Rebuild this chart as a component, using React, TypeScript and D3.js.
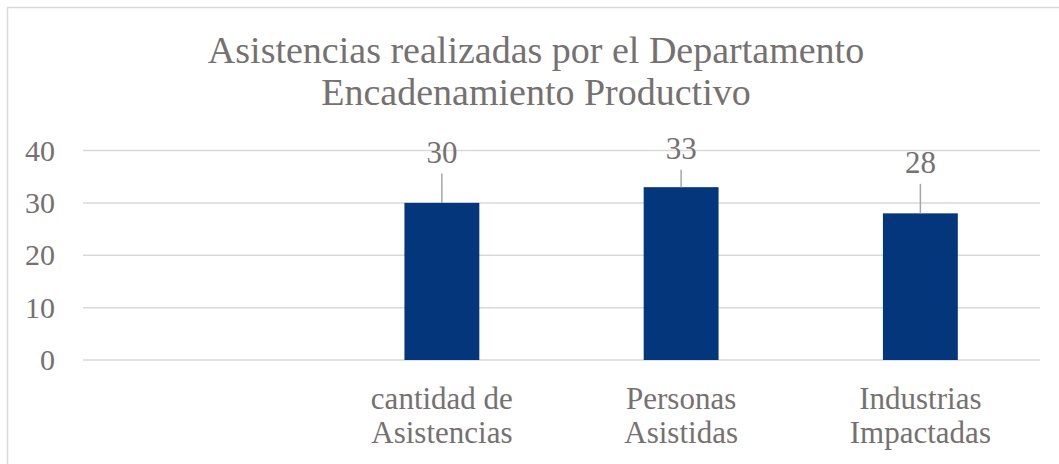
import React from "react";
import * as d3 from "d3";

const titleLines = ["Asistencias realizadas por el Departamento", "Encadenamiento Productivo"];
const categories = ["", "cantidad de\nAsistencias", "Personas\nAsistidas", "Industrias\nImpactadas"];
const values: (number | null)[] = [null, 30, 33, 28];
const yTicks = [0, 10, 20, 30, 40];
// manual data-label lifts (pixels above bar top), as moved in the original
const labelLift = [0, 40, 28, 40];

const W = 1059;
const H = 464;
const TEXT = "#757171";
const GRID = "#d9d9d9";
const BAR = "#03367a";

export default function App() {
  const x = d3
    .scaleBand<string>()
    .domain(categories.map((c, i) => String(i)))
    .range([83, 1040])
    .paddingInner(0.687)
    .paddingOuter(0.3435);
  const y = d3.scaleLinear().domain([0, 40]).range([360, 150.5]);

  return (
    <svg
      width={W}
      height={H}
      style={{ position: "absolute", left: 0, top: 0, fontFamily: "Liberation Serif" }}
    >
      <rect x={0} y={0} width={W} height={H} fill="#fff" />
      <rect x={7.5} y={7.5} width={W + 20} height={H + 20} fill="none" stroke={GRID} strokeWidth={1.5} />
      {titleLines.map((t, i) => (
        <text key={i} x={536} y={63 + i * 42} textAnchor="middle" fontSize={38} fill={TEXT} style={{ fontFamily: "Liberation Serif" }}>
          {t}
        </text>
      ))}
      {yTicks.map((t) => (
        <g key={t}>
          <line x1={83} x2={1040} y1={y(t)} y2={y(t)} stroke={GRID} strokeWidth={1.5} />
          <text x={55} y={y(t) + 10} textAnchor="end" fontSize={30} fill={TEXT} style={{ fontFamily: "Liberation Serif" }}>
            {t}
          </text>
        </g>
      ))}
      {values.map((v, i) => {
        if (v == null) return null;
        const bx = x(String(i))!;
        const bw = x.bandwidth();
        const cx = bx + bw / 2;
        const top = y(v);
        const base = top - labelLift[i];
        return (
          <g key={i}>
            <rect x={bx} y={top} width={bw} height={y(0) - top} fill={BAR} />
            <line x1={cx} x2={cx} y1={base + 10.5} y2={top} stroke="#a6a6a6" strokeWidth={1.5} />
            <text x={cx} y={base} textAnchor="middle" fontSize={31} fill={TEXT} style={{ fontFamily: "Liberation Serif" }}>
              {v}
            </text>
          </g>
        );
      })}
      {categories.map((c, i) => {
        const cx = x(String(i))! + x.bandwidth() / 2;
        return c
          .split("\n")
          .filter((s) => s.length)
          .map((line, j) => (
            <text key={i + "-" + j} x={cx} y={409 + j * 34} textAnchor="middle" fontSize={31} fill={TEXT} style={{ fontFamily: "Liberation Serif" }}>
              {line}
            </text>
          ));
      })}
    </svg>
  );
}
